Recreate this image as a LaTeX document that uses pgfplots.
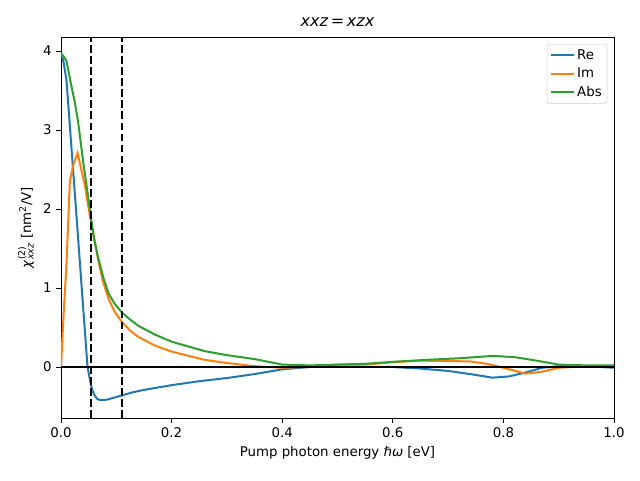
\documentclass[border=0pt]{standalone}
\usepackage{pgfplots}
\pgfplotsset{compat=1.18}
\usepackage{fontspec}
\setmainfont{DejaVu Sans}
\definecolor{c1}{HTML}{1F77B4}
\definecolor{c2}{HTML}{FF7F0E}
\definecolor{c3}{HTML}{2CA02C}
\begin{document}
\begin{tikzpicture}
\path[use as bounding box] (-45.75pt,-46.5pt) rectangle (434.25pt,313.5pt);
\begin{axis}[
  scale only axis, width=414.75pt, height=285.75pt,
  at={(0,0)}, anchor=south west,
  xmin=0, xmax=1, ymin=-0.646, ymax=4.177,
  xtick={0,0.2,0.4,0.6,0.8,1.0},
  xticklabels={0.0,0.2,0.4,0.6,0.8,1.0},
  ytick={0,1,2,3,4},
  tick align=outside, major tick length=3.6pt,
  tick style={black, line width=0.6pt},
  xtick pos=bottom, ytick pos=left,
  axis line style={line width=0.6pt},
  /pgf/number format/assume math mode=true,
  tick label style={font=\fontsize{10}{12}\selectfont},
  label style={font=\fontsize{10}{12}\selectfont},
  title style={font=\fontsize{12}{14}\selectfont, yshift=-2pt},
  title={\textit{xxz}\,=\,\textit{xzx}},
  xlabel={Pump photon energy \textit{ℏω} [eV]},
  ylabel={\textit{χ}$^{\mbox{\fontsize{7}{8}\selectfont(2)}}_{\mbox{\fontsize{7}{8}\selectfont\itshape xxz}}$ [nm\textsuperscript{2}/V]},
  legend cell align=left,
  legend style={font=\fontsize{10}{12}\selectfont, draw=black!20, rounded corners=2pt, fill=white, fill opacity=0.8, text opacity=1, at={(0.988,0.982)}, anchor=north east, inner sep=2pt, row sep=1pt},
  legend image post style={line width=1.5pt},
]
\addplot[c1, line width=1.5pt] coordinates {
(0,3.97) (0.005,3.85) (0.01,3.62) (0.015,3.15) (0.02,2.67) (0.025,2.2) (0.03,1.72)
(0.035,1.24) (0.04,0.76) (0.044,0.38) (0.048,0.0) (0.052,-0.15) (0.056,-0.28)
(0.06,-0.35) (0.065,-0.40) (0.07,-0.42) (0.077,-0.42) (0.085,-0.41) (0.095,-0.39)
(0.11,-0.36) (0.13,-0.32) (0.15,-0.29) (0.2,-0.23) (0.25,-0.18) (0.3,-0.14)
(0.35,-0.09) (0.4,-0.03) (0.45,0.0) (0.5,0.005) (0.55,0.0) (0.6,0.0) (0.65,-0.02)
(0.7,-0.05) (0.74,-0.09) (0.78,-0.135) (0.81,-0.12) (0.84,-0.07) (0.87,-0.01)
(0.9,0.01) (0.95,0.01) (1.0,-0.01)
};
\addlegendentry{Re}
\addplot[c2, line width=1.5pt] coordinates {
(0,0) (0.005,0.7) (0.01,1.31) (0.016,2.35) (0.022,2.55) (0.03,2.71) (0.037,2.49)
(0.043,2.3) (0.049,2.05) (0.055,1.80) (0.062,1.55) (0.068,1.33) (0.076,1.08)
(0.086,0.86) (0.097,0.70) (0.11,0.57) (0.125,0.46) (0.14,0.38) (0.17,0.27)
(0.2,0.195) (0.26,0.09) (0.3,0.05) (0.35,0.01) (0.4,-0.01) (0.45,0.0) (0.5,0.03)
(0.55,0.03) (0.6,0.06) (0.65,0.08) (0.7,0.075) (0.74,0.07) (0.77,0.04) (0.8,-0.01)
(0.84,-0.085) (0.87,-0.06) (0.9,-0.01) (0.95,0.01) (1.0,0.01)
};
\addlegendentry{Im}
\addplot[c3, line width=1.5pt] coordinates {
(0,3.97) (0.005,3.93) (0.01,3.87) (0.019,3.55) (0.025,3.35) (0.031,3.1) (0.04,2.6)
(0.049,2.16) (0.054,1.9) (0.06,1.62) (0.068,1.36) (0.077,1.12) (0.086,0.93)
(0.097,0.80) (0.11,0.69) (0.125,0.60) (0.14,0.52) (0.17,0.41) (0.2,0.32)
(0.26,0.2) (0.3,0.15) (0.35,0.1) (0.4,0.03) (0.45,0.02) (0.5,0.03) (0.55,0.04)
(0.6,0.065) (0.66,0.09) (0.72,0.11) (0.78,0.14) (0.82,0.125) (0.86,0.08)
(0.9,0.03) (0.95,0.02) (1.0,0.02)
};
\addlegendentry{Abs}
\addplot[black, line width=1.5pt, forget plot] coordinates {(0,0) (1,0)};
\addplot[black, line width=1.5pt, dash pattern=on 5.8pt off 2.5pt, forget plot] coordinates {(0.054,-0.646) (0.054,4.177)};
\addplot[black, line width=1.5pt, dash pattern=on 5.8pt off 2.5pt, forget plot] coordinates {(0.110,-0.646) (0.110,4.177)};
\end{axis}
\end{tikzpicture}
\end{document}
